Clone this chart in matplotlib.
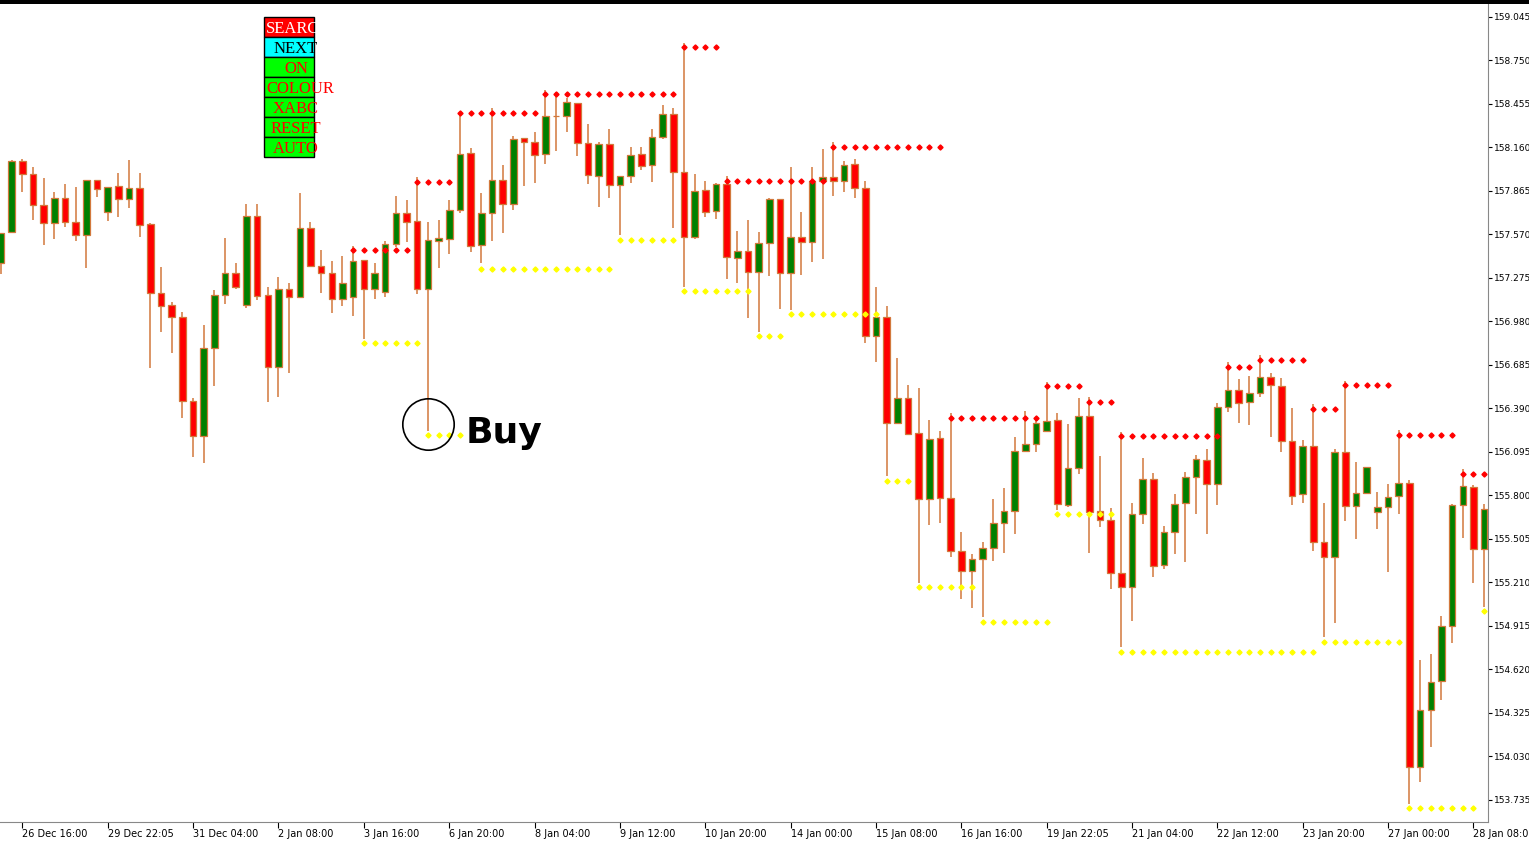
import numpy as np
import matplotlib
matplotlib.use("Agg")
from matplotlib import pyplot as plt
from matplotlib.patches import Rectangle

# OHLC (one value per candle, left to right)
opens = [157.376,157.587,158.068,157.980,157.770,157.648,157.817,157.654,157.566,157.939,
         157.722,157.899,157.810,157.885,157.641,157.173,157.091,157.010,156.440,156.203,
         156.800,157.159,157.309,157.091,157.695,157.159,156.671,157.200,157.146,157.614,
         157.356,157.309,157.132,157.146,157.397,157.200,157.180,157.505,157.715,157.661,
         157.200,157.526,157.539,157.736,158.122,157.498,157.715,157.939,157.776,158.224,
         158.197,158.116,158.373,158.373,158.461,158.190,157.966,158.183,157.905,157.966,
         158.116,158.041,158.231,158.387,157.993,157.553,157.871,157.729,157.912,157.410,
         157.458,157.315,157.512,157.810,157.309,157.553,157.519,157.932,157.960,157.932,
         158.048,157.885,156.881,157.010,156.291,156.461,156.223,155.776,156.189,155.783,
         155.423,155.287,155.369,155.443,155.613,155.694,156.101,156.149,156.237,156.312,
         155.735,155.986,156.339,155.694,155.633,155.274,155.179,155.674,155.911,155.328,
         155.552,155.749,155.925,156.040,155.878,156.400,156.515,156.434,156.495,156.603,
         156.542,156.169,155.810,156.135,155.484,155.382,156.095,155.728,155.816,155.688,
         155.722,155.796,155.884,153.958,154.345,154.541,154.915,155.735,155.857,155.437]
highs = [157.580,158.075,158.082,158.027,157.953,157.858,157.912,157.892,157.939,157.939,
         157.892,157.987,158.075,157.987,157.648,157.349,157.112,157.044,156.461,156.956,
         157.193,157.546,157.376,157.776,157.776,157.214,157.281,157.241,157.851,157.654,
         157.464,157.390,157.424,157.492,157.397,157.376,157.526,157.831,157.804,157.960,
         157.654,157.668,157.804,158.394,158.156,157.851,158.428,158.041,158.238,158.224,
         158.265,158.550,158.536,158.495,158.461,158.319,158.197,158.285,157.966,158.163,
         158.163,158.285,158.448,158.428,158.868,157.980,157.932,157.919,157.966,157.593,
         157.668,157.587,157.817,157.810,158.027,157.722,158.027,158.149,158.197,158.068,
         158.082,157.932,157.214,157.085,156.732,156.549,156.529,156.312,156.237,156.359,
         155.552,155.403,155.484,155.776,155.850,156.196,156.373,156.332,156.569,156.359,
         156.284,156.461,156.468,156.067,155.715,156.230,155.749,156.054,155.952,155.593,
         155.810,155.959,156.074,156.115,156.427,156.705,156.590,156.610,156.752,156.630,
         156.596,156.393,156.176,156.420,155.749,156.115,156.576,156.027,155.993,155.823,
         155.878,156.244,155.905,154.684,154.725,154.982,155.742,155.979,155.871,155.742]
lows = [157.302,157.580,157.858,157.668,157.498,157.539,157.620,157.526,157.342,157.824,
        157.661,157.688,157.749,157.553,156.664,156.908,156.766,156.325,156.061,156.020,
        156.542,157.098,157.200,157.071,157.125,156.434,156.468,156.630,157.139,157.349,
        157.173,157.037,157.085,157.017,156.861,157.132,157.146,157.485,157.519,157.166,
        156.237,157.342,157.437,157.715,157.451,157.376,157.526,157.580,157.736,157.899,
        157.919,158.048,158.136,158.265,158.102,157.912,157.756,157.817,157.566,157.919,
        158.007,157.926,158.217,157.614,157.214,157.539,157.688,157.675,157.268,157.241,
        157.003,156.908,157.288,157.064,157.058,157.295,157.383,157.403,157.831,157.858,
        157.817,156.834,156.705,155.932,156.291,156.210,155.206,155.599,155.613,155.382,
        155.098,155.037,154.975,155.355,155.410,155.538,156.095,156.095,156.230,155.701,
        155.722,155.945,155.410,155.586,155.165,154.772,154.948,155.606,155.247,155.301,
        155.403,155.348,155.674,155.538,155.735,156.366,156.291,156.278,156.468,156.196,
        156.095,155.735,155.749,155.423,154.840,154.935,155.627,155.505,155.816,155.572,
        155.281,155.674,153.707,153.856,154.094,154.413,154.799,155.511,155.206,155.043]
closes = [157.580,158.068,157.980,157.770,157.648,157.817,157.654,157.566,157.939,157.878,
          157.892,157.810,157.885,157.634,157.173,157.085,157.010,156.440,156.203,156.800,
          157.159,157.309,157.214,157.695,157.153,156.671,157.200,157.146,157.614,157.356,
          157.309,157.132,157.241,157.390,157.200,157.309,157.505,157.715,157.654,157.200,
          157.532,157.546,157.736,158.116,157.492,157.715,157.939,157.776,158.217,158.197,
          158.109,158.373,158.370,158.468,158.190,157.973,158.183,157.905,157.966,158.109,
          158.034,158.231,158.387,157.993,157.553,157.865,157.722,157.912,157.417,157.458,
          157.315,157.512,157.810,157.309,157.553,157.519,157.932,157.960,157.932,158.041,
          157.885,156.881,157.010,156.291,156.461,156.217,155.776,156.183,155.783,155.423,
          155.287,155.369,155.443,155.613,155.694,156.101,156.149,156.291,156.305,155.742,
          155.986,156.339,155.688,155.633,155.274,155.179,155.674,155.911,155.321,155.552,
          155.742,155.925,156.047,155.878,156.400,156.515,156.427,156.495,156.603,156.549,
          156.169,155.796,156.135,155.484,155.382,156.095,155.728,155.816,155.993,155.722,
          155.789,155.884,153.958,154.345,154.535,154.915,155.735,155.864,155.437,155.708]

# resistance (red) and support (yellow) dotted levels: first candle, last candle, price
res_start = [33, 39, 43, 51, 64, 68, 78, 89, 98, 102, 105, 115, 118, 123, 126, 131, 137]
res_end   = [38, 42, 50, 63, 67, 77, 88, 97, 101, 104, 114, 117, 122, 125, 130, 136, 139]
res_price = [157.464, 157.926, 158.394, 158.523, 158.841, 157.932, 158.163, 156.325,
             156.542, 156.434, 156.203, 156.671, 156.718, 156.386, 156.549, 156.210, 155.945]
sup_start = [34, 40, 45, 58, 64, 71, 74, 83, 86, 92, 99, 105, 124, 132, 139]
sup_end   = [39, 43, 57, 63, 70, 73, 82, 85, 91, 98, 104, 123, 131, 138, 139]
sup_price = [156.834, 156.210, 157.336, 157.532, 157.186, 156.881, 157.030, 155.898,
             155.179, 154.942, 155.674, 154.738, 154.806, 153.680, 155.016]

price_ticks = [159.045, 158.750, 158.455, 158.160, 157.865, 157.570, 157.275, 156.980,
               156.685, 156.390, 156.095, 155.800, 155.505, 155.210, 154.915, 154.620,
               154.325, 154.030, 153.735]
date_labels = ["26 Dec 16:00", "29 Dec 22:05", "31 Dec 04:00", "2 Jan 08:00", "3 Jan 16:00",
               "6 Jan 20:00", "8 Jan 04:00", "9 Jan 12:00", "10 Jan 20:00", "14 Jan 00:00",
               "15 Jan 08:00", "16 Jan 16:00", "19 Jan 22:05", "21 Jan 04:00", "22 Jan 12:00",
               "23 Jan 20:00", "27 Jan 00:00", "28 Jan 08:00"]
buttons = ["SEARC", "NEXT", "ON", "COLOUR", "XABC", "RESET", "AUTO"]
button_bg = ["#ff0000", "#00ffff", "#00ff00", "#00ff00", "#00ff00", "#00ff00", "#00ff00"]
button_fg = ["white", "black", "red", "red", "red", "red", "red"]

o = np.array(opens); h = np.array(highs); l = np.array(lows); c = np.array(closes)
n = len(o)
x = np.arange(n)

fig = plt.figure(figsize=(15.29, 8.43), dpi=100)
ax = fig.add_axes([0, 21/843, 1488/1529, 818/843])

edge = "#d2783c"
ax.vlines(x, l, h, color=edge, linewidth=1.1, zorder=2)
up = c >= o
w = 0.62
for i in range(n):
    lo = min(o[i], c[i])
    ht = max(abs(c[i] - o[i]), 0.004)
    ax.add_patch(Rectangle((x[i] - w/2, lo), w, ht, facecolor="#008000" if up[i] else "#ff0000",
                           edgecolor=edge, linewidth=0.9, zorder=3))

for s, e, p in zip(res_start, res_end, res_price):
    xs = np.arange(s, e + 1)
    ax.plot(xs, np.full(len(xs), p), "D", color="red", markersize=2.6, zorder=4)
for s, e, p in zip(sup_start, sup_end, sup_price):
    xs = np.arange(s, e + 1)
    ax.plot(xs, np.full(len(xs), p), "D", color="#ffff00", markersize=2.6, zorder=4)

# Buy mark at the long-wick candle
buy = 40
ax.plot(buy, l[buy] + 0.05, "o", markersize=37, markerfacecolor="none",
        markeredgecolor="black", markeredgewidth=1.2, zorder=5)
ax.annotate("Buy", (buy, l[buy] + 0.05), xytext=(27, -7), textcoords="offset points",
            fontsize=26, fontweight="bold", va="center", ha="left")

ax.set_xlim(-0.1, 139.36)
ax.set_ylim(153.585, 159.133)
ax.yaxis.tick_right()
ax.set_yticks(price_ticks)
ax.set_yticklabels([f"{p:.3f}" for p in price_ticks], fontsize=6.5)
ax.set_xticks(2 + 8 * np.arange(len(date_labels)))
ax.set_xticklabels(date_labels, fontsize=7, ha="left")
ax.tick_params(axis="x", length=4, pad=1)
ax.tick_params(axis="y", length=3, pad=1)
for side in ["top", "left"]:
    ax.spines[side].set_visible(False)
ax.spines["right"].set_color("#888888")
ax.spines["bottom"].set_color("#888888")

# top black strip
fig.add_artist(Rectangle((0, 1 - 4/843), 1, 4/843, transform=fig.transFigure,
                         facecolor="black", edgecolor="none"))

# button panel
for j, (txt, bg, fg) in enumerate(zip(buttons, button_bg, button_fg)):
    y0 = 1 - (17 + 20 * (j + 1)) / 843
    fig.add_artist(Rectangle((264/1529, y0), 50/1529, 20/843, transform=fig.transFigure,
                             facecolor=bg, edgecolor="black", linewidth=1))
    if txt in ("SEARC", "COLOUR"):
        tx, ha = 266/1529, "left"
    else:
        tx, ha = 296/1529, "center"
    fig.text(tx, y0 + 8/843, txt, color=fg, fontsize=12, family="Liberation Serif",
             va="center", ha=ha)

fig.savefig("out.png", dpi=100)
